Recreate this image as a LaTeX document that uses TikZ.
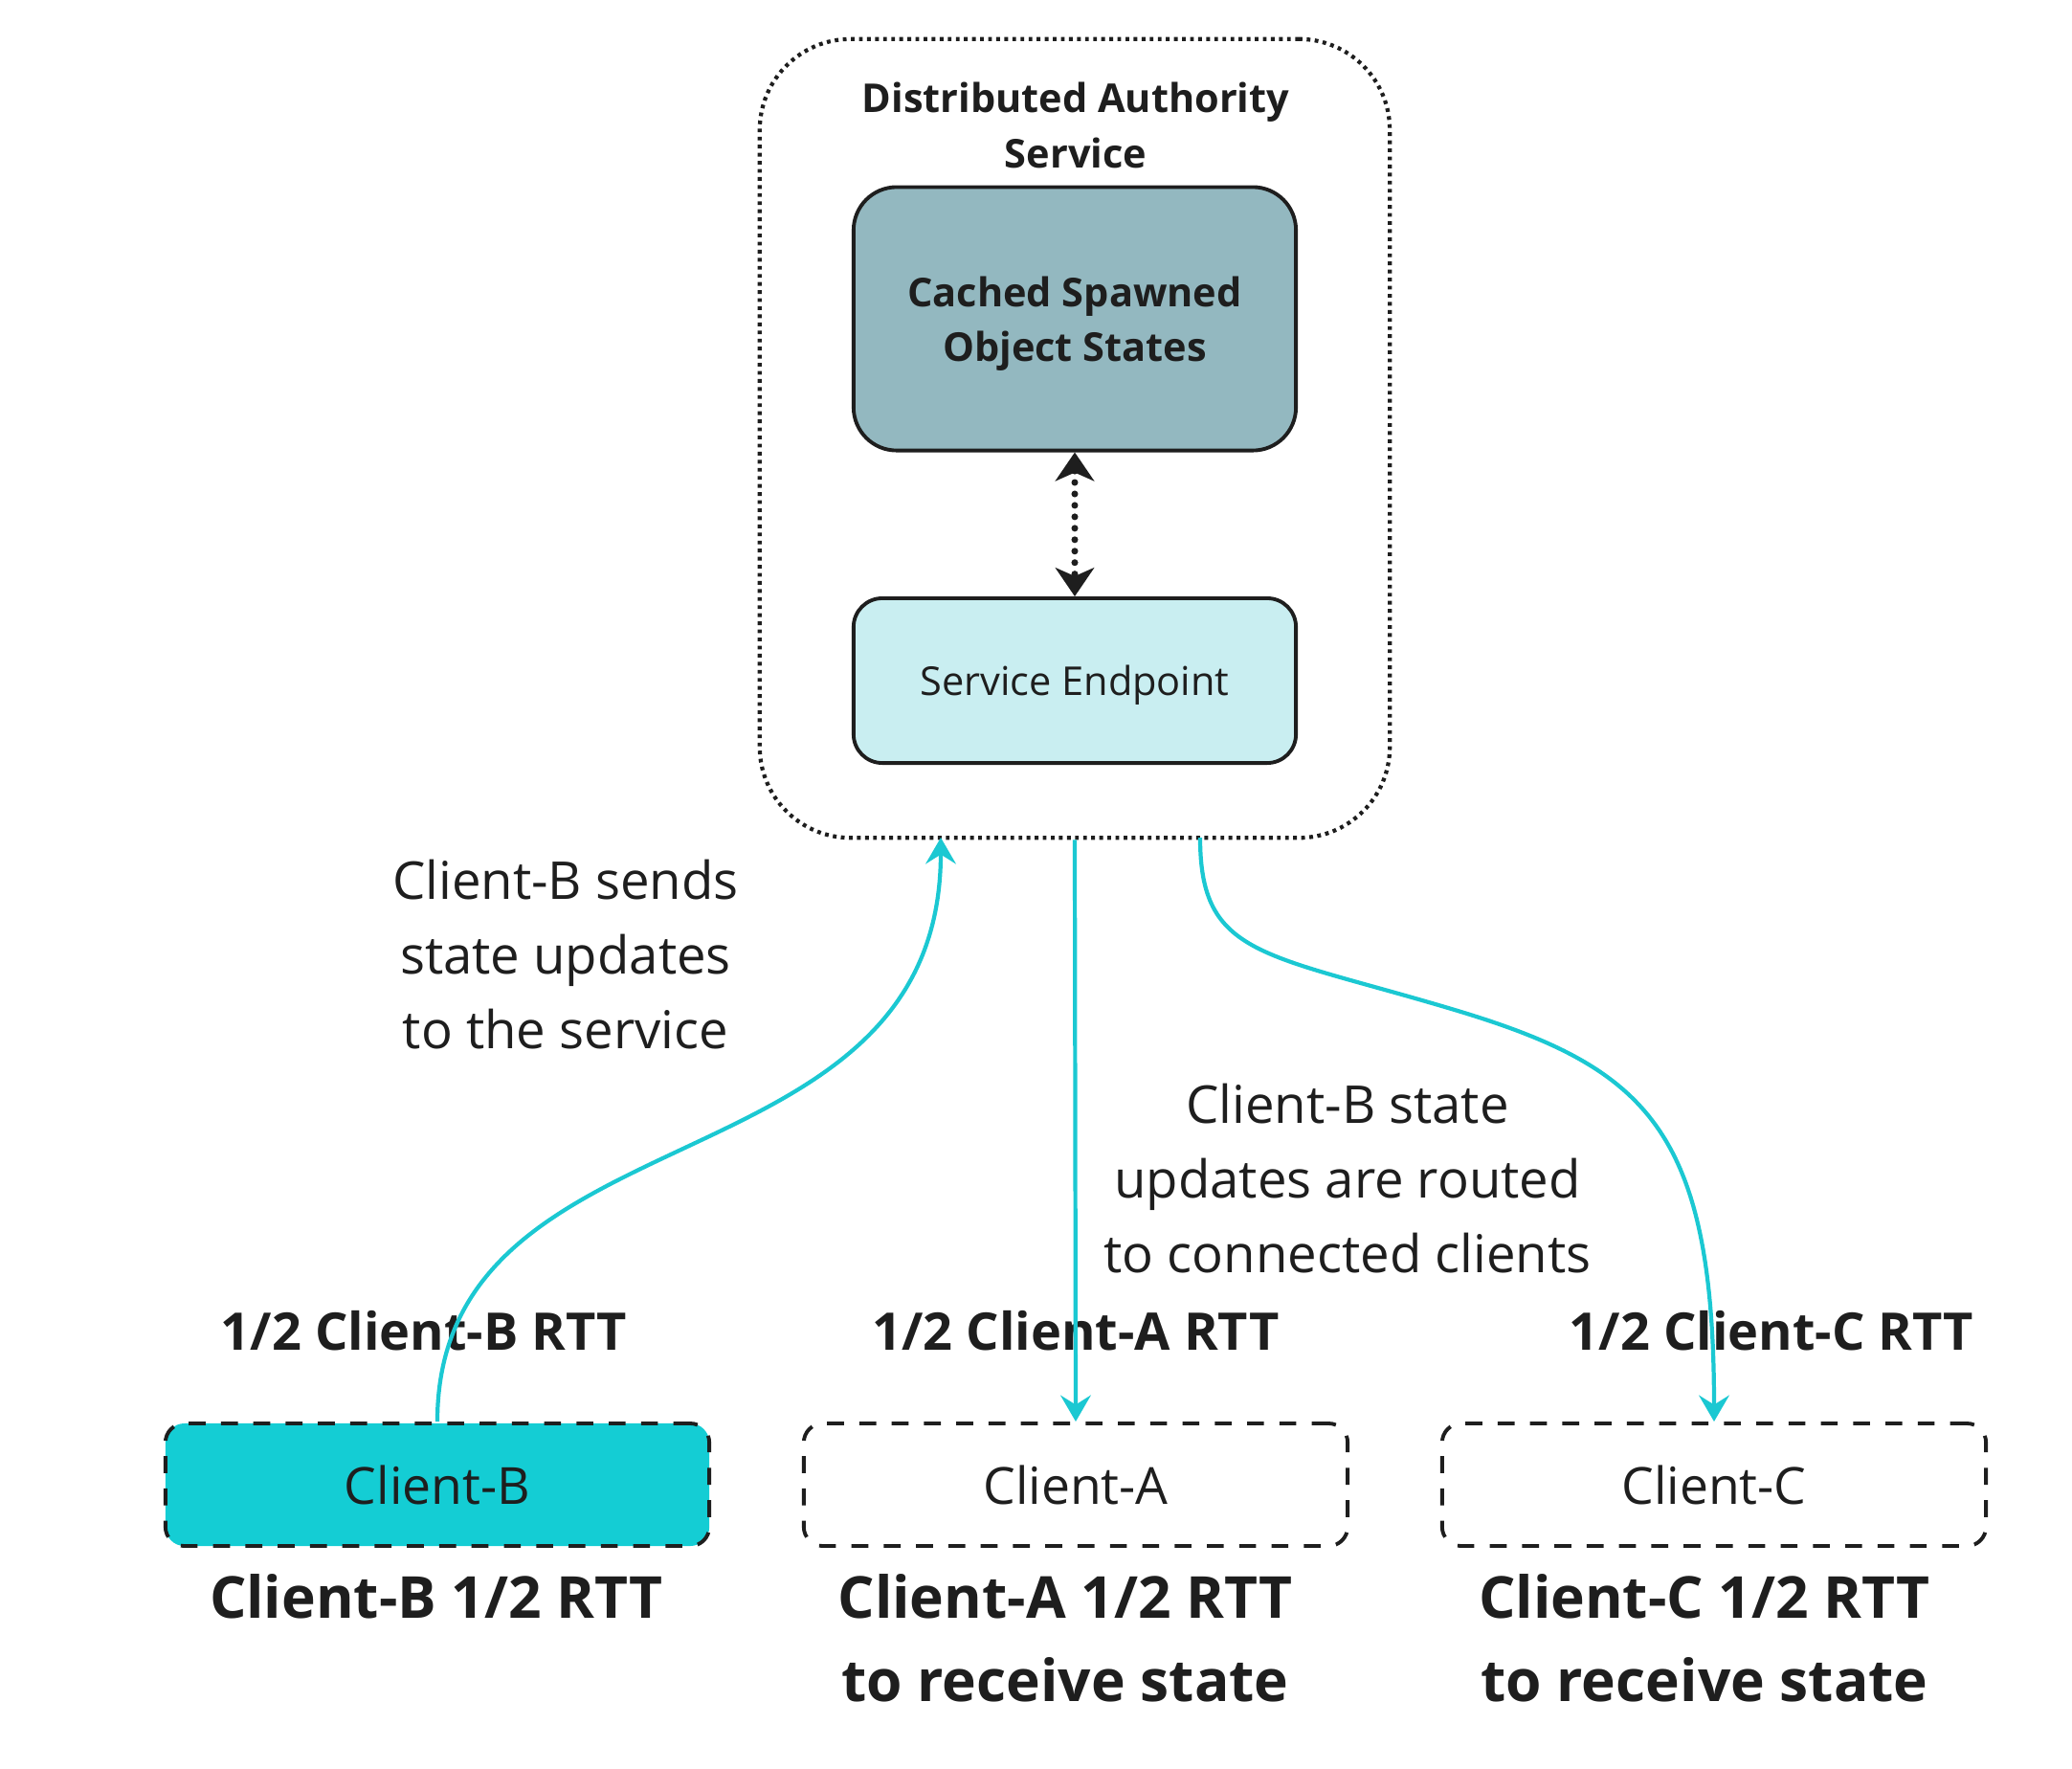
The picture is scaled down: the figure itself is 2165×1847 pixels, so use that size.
\documentclass[tikz,border=0pt]{standalone}
\usepackage{fontspec}
\setmainfont{Open Sans}
\usetikzlibrary{arrows.meta}

\definecolor{inkdark}{HTML}{1E1E1E}
\definecolor{cachefill}{HTML}{93B8C0}
\definecolor{endpointfill}{HTML}{C9EEF1}
\definecolor{clientfill}{HTML}{14CDD4}
\definecolor{flowcyan}{HTML}{1BC8D2}

\tikzset{
  innerbox/.style={draw=inkdark, line width=1.1pt, minimum width=4.62cm, align=center, text=inkdark, text depth=0pt},
  clientbox/.style={draw=inkdark, line width=1.1pt, dash pattern=on 5pt off 4.6pt, rounded corners=0.2cm,
    minimum width=5.68cm, minimum height=1.28cm, font=\fontsize{15.2}{18}\selectfont, text=inkdark},
  rttlabel/.style={font=\bfseries\fontsize{15.4}{18}\selectfont, text=inkdark},
  waitlabel/.style={font=\bfseries\fontsize{17.2}{24.8}\selectfont, text=inkdark, align=center},
  note/.style={font=\fontsize{15.5}{22.2}\selectfont, text=inkdark, align=center},
  flow/.style={draw=flowcyan, line width=1.2pt, -{Stealth[length=7.8pt, width=9pt, inset=2.8pt]}},
}

\begin{document}
\begin{tikzpicture}[x=0.01cm, y=-0.01cm]
    \useasboundingbox (0,0) rectangle (2165,1847);

    % Service boundary
    \node[draw=inkdark, line width=1.2pt, dash pattern=on 1.1pt off 1.3pt, rounded corners=0.95cm,
      minimum width=6.58cm, minimum height=8.34cm] (dasbox) at (1123,458) {};
    \node[font=\bfseries\fontsize{11.8}{16.5}\selectfont, text=inkdark, align=center] (dastitle) at (1124,131)
      {Distributed Authority\\Service};

    % Inner boxes
    \node[innerbox, fill=cachefill, rounded corners=0.45cm, minimum height=2.75cm,
      font=\bfseries\fontsize{11.8}{16.2}\selectfont] (cache) at (1123,333) {Cached Spawned\\Object States};
    \node[innerbox, fill=endpointfill, rounded corners=0.3cm, minimum height=1.72cm,
      font=\fontsize{11.8}{14}\selectfont] (endpoint) at (1123,711) {Service Endpoint};

    % Cache <-> endpoint
    \draw[inkdark, line width=2pt, line cap=round, dash pattern=on 0pt off 3.4pt,
      {Stealth[length=8.5pt, width=11.5pt, inset=2.5pt]}-{Stealth[length=8.5pt, width=11.5pt, inset=2.5pt]}]
      (cache.south) -- (endpoint.north);

    % Clients
    \node[clientbox, fill=clientfill] (cliB) at (457,1551) {Client-B};
    \node[clientbox] (cliA) at (1124,1551) {Client-A};
    \node[clientbox] (cliC) at (1791,1551) {Client-C};

    % Half RTT labels
    \node[rttlabel] (rttB) at (443,1390) {1/2 Client-B RTT};
    \node[rttlabel] (rttA) at (1124,1390) {1/2 Client-A RTT};
    \node[rttlabel] (rttC) at (1851,1390) {1/2 Client-C RTT};

    \node[waitlabel] (waitB) at (456,1668) {Client-B 1/2 RTT};
    \node[waitlabel] (waitA) at (1113,1711) {Client-A 1/2 RTT\\to receive state};
    \node[waitlabel] (waitC) at (1781,1711) {Client-C 1/2 RTT\\to receive state};

    % Notes
    \node[note] (noteSend) at (591,997) {Client-B sends\\state updates\\to the service};
    \node[note] (noteRoute) at (1408,1231) {Client-B state\\updates are routed\\to connected clients};

    % State update flows
    \coordinate (dasInB) at (983,875);
    \coordinate (dasOutC) at (1254,875);
    \draw[flow] (cliB.north) .. controls (457,1150) and (983,1250) .. (dasInB);
    \draw[flow] (dasbox.south) -- (cliA.north);
    \draw[flow] (dasOutC) .. controls (1254,1000) and (1320,995) .. (1520,1055)
      .. controls (1720,1115) and (1791,1180) .. (cliC.north);
\end{tikzpicture}
\end{document}
